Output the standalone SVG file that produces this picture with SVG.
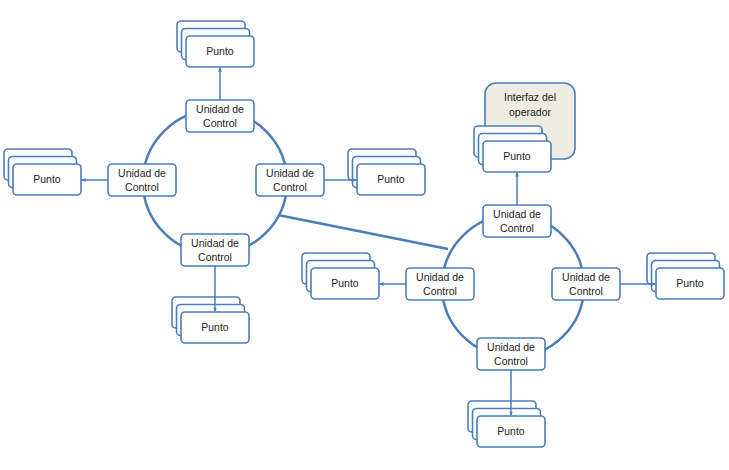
<svg xmlns="http://www.w3.org/2000/svg" width="729" height="470" viewBox="0 0 729 470">
<style>
  .ring{fill:none;stroke:#4A7EBB;stroke-width:2.5}
  .box{fill:#fff;stroke:#4A7EBB;stroke-width:1.6}
  .iface{fill:#EEECE1;stroke:#4A7EBB;stroke-width:1.6}
  .t{font-family:"Liberation Sans",Arial,sans-serif;font-size:10.5px;fill:#222;text-anchor:middle}
  .c{fill:none;stroke:#4A7EBB;stroke-width:1.5}
  .link{fill:none;stroke:#4A7EBB;stroke-width:2.5}
</style>
<defs>
  <marker id="ah" viewBox="0 0 6 6" refX="6" refY="3" markerWidth="4" markerHeight="4" orient="auto" markerUnits="userSpaceOnUse">
    <path d="M0,0 L6,3 L0,6 z" fill="#4A7EBB"/>
  </marker>
</defs>
<rect width="729" height="470" fill="#fff"/>

<g id="rings">
  <circle class="ring" cx="215" cy="182" r="72"/>
  <circle class="ring" cx="513" cy="286" r="71"/>
  <line class="link" x1="278" y1="215" x2="448" y2="249"/>
</g>

<g id="interfaz">
  <rect class="iface" x="485" y="83" width="90" height="76" rx="11"/>
  <text class="t" x="530" y="101">Interfaz del</text>
  <text class="t" x="530" y="116">operador</text>
</g>

<g id="punto-LT">
  <rect class="box" x="177" y="21" width="68" height="31" rx="4"/>
  <rect class="box" x="181.5" y="28.5" width="68" height="31" rx="4"/>
  <rect class="box" x="186" y="36" width="68" height="31" rx="4"/>
  <text class="t" x="220" y="55">Punto</text>
</g>
<g id="punto-LL">
  <rect class="box" x="4" y="149" width="68" height="31" rx="4"/>
  <rect class="box" x="8.5" y="156.5" width="68" height="31" rx="4"/>
  <rect class="box" x="13" y="164" width="68" height="31" rx="4"/>
  <text class="t" x="47" y="183">Punto</text>
</g>
<g id="punto-LR">
  <rect class="box" x="348" y="149" width="68" height="31" rx="4"/>
  <rect class="box" x="352.5" y="156.5" width="68" height="31" rx="4"/>
  <rect class="box" x="357" y="164" width="68" height="31" rx="4"/>
  <text class="t" x="391" y="183">Punto</text>
</g>
<g id="punto-LB">
  <rect class="box" x="172" y="297" width="68" height="31" rx="4"/>
  <rect class="box" x="176.5" y="304.5" width="68" height="31" rx="4"/>
  <rect class="box" x="181" y="312" width="68" height="31" rx="4"/>
  <text class="t" x="215" y="331">Punto</text>
</g>
<g id="punto-RT">
  <rect class="box" x="474" y="126" width="68" height="31" rx="4"/>
  <rect class="box" x="478.5" y="133.5" width="68" height="31" rx="4"/>
  <rect class="box" x="483" y="141" width="68" height="31" rx="4"/>
  <text class="t" x="517" y="160">Punto</text>
</g>
<g id="punto-RL">
  <rect class="box" x="302" y="253" width="68" height="31" rx="4"/>
  <rect class="box" x="306.5" y="260.5" width="68" height="31" rx="4"/>
  <rect class="box" x="311" y="268" width="68" height="31" rx="4"/>
  <text class="t" x="345" y="287">Punto</text>
</g>
<g id="punto-RR">
  <rect class="box" x="647" y="253" width="68" height="31" rx="4"/>
  <rect class="box" x="651.5" y="260.5" width="68" height="31" rx="4"/>
  <rect class="box" x="656" y="268" width="68" height="31" rx="4"/>
  <text class="t" x="690" y="287">Punto</text>
</g>
<g id="punto-RB">
  <rect class="box" x="468" y="401" width="68" height="31" rx="4"/>
  <rect class="box" x="472.5" y="408.5" width="68" height="31" rx="4"/>
  <rect class="box" x="477" y="416" width="68" height="31" rx="4"/>
  <text class="t" x="511" y="435">Punto</text>
</g>

<g id="connectors">
  <line class="c" x1="220" y1="100" x2="220" y2="67.5" marker-end="url(#ah)"/>
  <line class="c" x1="108" y1="180" x2="81.5" y2="180" marker-end="url(#ah)"/>
  <line class="c" x1="324" y1="180" x2="356.5" y2="180" marker-end="url(#ah)"/>
  <line class="c" x1="215" y1="266" x2="215" y2="311.5" marker-end="url(#ah)"/>
  <line class="c" x1="517" y1="205" x2="517" y2="172.5" marker-end="url(#ah)"/>
  <line class="c" x1="406" y1="284" x2="379.5" y2="284" marker-end="url(#ah)"/>
  <line class="c" x1="620" y1="284" x2="655.5" y2="284" marker-end="url(#ah)"/>
  <line class="c" x1="511" y1="370" x2="511" y2="415.5" marker-end="url(#ah)"/>
</g>

<g id="uc-LT">
  <rect class="box" x="186" y="100" width="68" height="32" rx="4"/>
  <text class="t" x="220" y="113">Unidad de</text>
  <text class="t" x="220" y="127">Control</text>
</g>
<g id="uc-LL">
  <rect class="box" x="108" y="164" width="68" height="32" rx="4"/>
  <text class="t" x="142" y="177">Unidad de</text>
  <text class="t" x="142" y="191">Control</text>
</g>
<g id="uc-LR">
  <rect class="box" x="256" y="164" width="68" height="32" rx="4"/>
  <text class="t" x="290" y="177">Unidad de</text>
  <text class="t" x="290" y="191">Control</text>
</g>
<g id="uc-LB">
  <rect class="box" x="181" y="234" width="68" height="32" rx="4"/>
  <text class="t" x="215" y="247">Unidad de</text>
  <text class="t" x="215" y="261">Control</text>
</g>
<g id="uc-RT">
  <rect class="box" x="483" y="205" width="68" height="32" rx="4"/>
  <text class="t" x="517" y="218">Unidad de</text>
  <text class="t" x="517" y="232">Control</text>
</g>
<g id="uc-RL">
  <rect class="box" x="406" y="268" width="68" height="32" rx="4"/>
  <text class="t" x="440" y="281">Unidad de</text>
  <text class="t" x="440" y="295">Control</text>
</g>
<g id="uc-RR">
  <rect class="box" x="552" y="268" width="68" height="32" rx="4"/>
  <text class="t" x="586" y="281">Unidad de</text>
  <text class="t" x="586" y="295">Control</text>
</g>
<g id="uc-RB">
  <rect class="box" x="477" y="338" width="68" height="32" rx="4"/>
  <text class="t" x="511" y="351">Unidad de</text>
  <text class="t" x="511" y="365">Control</text>
</g>
</svg>
